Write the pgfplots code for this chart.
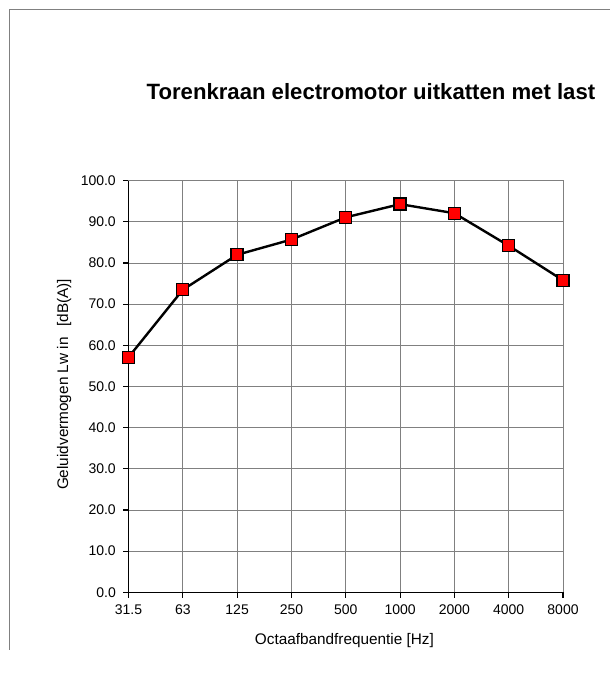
\documentclass[border=0pt]{standalone}
\usepackage{pgfplots}
\pgfplotsset{compat=1.18}
\usepackage{fontspec}
\setmainfont{Liberation Sans}
\definecolor{markred}{RGB}{255,0,0}
\definecolor{gridgray}{RGB}{128,128,128}
\begin{document}
\begin{tikzpicture}[x=0.75pt,y=0.75pt]
% page extent and the chart frame (top and left edges)
\path (0,0) rectangle (610,675);
\draw[gridgray,line width=0.9pt] (9.5,25) -- (9.5,665.5) -- (610,665.5);
\begin{axis}[
  at={(96.375pt,62.025pt)}, anchor=south west,
  scale only axis,
  width=325.9pt, height=308.7pt,
  xmin=0, xmax=8, ymin=0, ymax=100,
  xtick={0,...,8},
  xticklabels={31.5,63,125,250,500,1000,2000,4000,8000},
  ytick={0,10,...,100},
  yticklabel={\pgfmathprintnumber[fixed,fixed zerofill,precision=1]{\tick}},
  /pgf/number format/assume math mode=true,
  tick label style={font=\fontsize{10.5}{12}\selectfont},
  xticklabel style={yshift=-2pt},
  yticklabel style={xshift=-2pt},
  grid=major,
  major grid style={gridgray,line width=0.7pt},
  axis line style={black,line width=0.8pt},
  tick style={black,line width=0.8pt},
  tick align=outside,
  major tick length=4pt,
  axis x line*=bottom, axis y line*=left,
  clip=false,
  xlabel={Octaafbandfrequentie [Hz]},
  ylabel={Geluidvermogen Lw in\hspace{0.7em}[dB(A)]},
  xlabel style={font=\fontsize{11.5}{13}\selectfont, at={(axis description cs:0.497,-0.116)}, anchor=center},
  ylabel style={font=\fontsize{11.5}{13}\selectfont, at={(axis description cs:-0.148,0.505)}, anchor=center, rotate=0},
  title={\textbf{Torenkraan electromotor uitkatten met last}},
  title style={font=\fontsize{16.6}{19}\selectfont, at={(axis description cs:0.558,1.197)}, anchor=center},
]
% grey outline on the top and right of the plot area
\draw[gridgray,line width=0.7pt] (axis cs:0,100) -- (axis cs:8,100) -- (axis cs:8,0);
\addplot[black, line width=1.8pt, mark=square*,
  mark options={fill=markred, draw=black, line width=1pt}, mark size=4.5pt]
  coordinates {
    (0,57.1) (1,73.5) (2,82.0) (3,85.7) (4,91.1)
    (5,94.3) (6,92.1) (7,84.2) (8,75.8)
  };
\end{axis}
\end{tikzpicture}
\end{document}
